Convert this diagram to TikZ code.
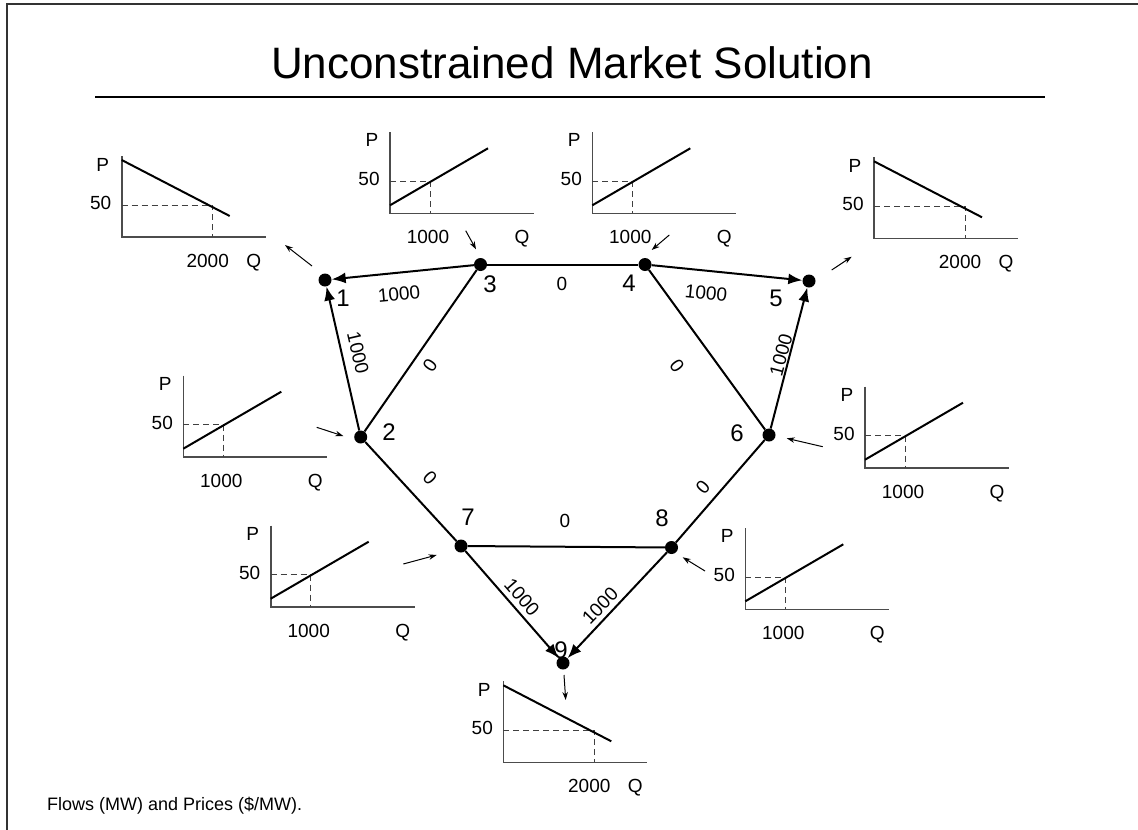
\documentclass[tikz,border=0pt]{standalone}
\usepackage{fontspec}
\setmainfont{Liberation Sans}
\usetikzlibrary{arrows.meta}
\tikzset{
  frame/.style={line width=1.4pt, black!80},
  axisline/.style={line width=1.6pt, black!70},
  guide/.style={line width=1pt, black!75, dash pattern=on 6pt off 4pt},
  curveline/.style={line width=2pt, black},
  lbl/.style={inner sep=0pt, text depth=0pt, font=\fontsize{19}{22}\selectfont},
  elbl/.style={inner sep=0pt, font=\fontsize{19}{22}\selectfont},
  nlbl/.style={inner sep=0pt, font=\fontsize{24}{28}\selectfont},
  bus/.style={circle, fill=black, inner sep=0pt, minimum size=13pt},
  line/.style={line width=2pt, black},
  flow/.style={line width=2pt, black, -{Latex[length=14pt,width=11pt]}},
  inj/.style={line width=1pt, black, -{Stealth[length=8pt,width=5.5pt]}},
}
\newcommand\mysupplychart[2]{%
\begin{scope}[shift={(#2)}]
  \draw[axisline] (0,-81) -- (0,0) -- (144,0);
  \draw[guide] (0,-32) -- (40,-32) -- (40,0);
  \draw[curveline] (0,-8) -- (98,-65);
  \node[lbl] (#1P) at (-18,-73) {P};
  \node[lbl] (#1p) at (-21,-34) {50};
  \node[lbl] (#1q) at (38,24) {1000};
  \node[lbl] (#1Q) at (132,24) {Q};
\end{scope}}
\newcommand\mydemandchart[2]{%
\begin{scope}[shift={(#2)}]
  \draw[axisline] (0,-81) -- (0,0) -- (144,0);
  \draw[guide] (0,-32) -- (91,-32) -- (91,0);
  \draw[curveline] (0,-77) -- (108,-21);
  \node[lbl] (#1P) at (-19,-72) {P};
  \node[lbl] (#1p) at (-21,-34) {50};
  \node[lbl] (#1q) at (86,24) {2000};
  \node[lbl] (#1Q) at (132,24) {Q};
\end{scope}}
\begin{document}
\begin{tikzpicture}[x=1pt,y=-1pt]
\useasboundingbox (0,0) rectangle (1138,830);
% frame
\draw[frame] (1138,4) -- (7,4) -- (7,830);
% title
\node[inner sep=0pt, anchor=base, font=\fontsize{44}{50}\selectfont] (title) at (572,78) {Unconstrained Market Solution};
\draw[line width=1.2pt] (95,97) -- (1045,97);

% buses
\node[bus] (n1) at (325,280) {};
\node[bus] (n2) at (360.7,437) {};
\node[bus] (n3) at (480.5,264.5) {};
\node[bus] (n4) at (645,264.5) {};
\node[bus] (n5) at (809,281) {};
\node[bus] (n6) at (769,435) {};
\node[bus] (n7) at (461,546) {};
\node[bus] (n8) at (671.5,547.5) {};
\node[bus] (n9) at (563,663) {};

% bus labels
\node[nlbl] (l1) at (343,298) {1};
\node[nlbl] (l2) at (389,432) {2};
\node[nlbl] (l3) at (490,284) {3};
\node[nlbl] (l4) at (629,283) {4};
\node[nlbl] (l5) at (776,298) {5};
\node[nlbl] (l6) at (737,433) {6};
\node[nlbl] (l7) at (468,517) {7};
\node[nlbl] (l8) at (662,518) {8};
\node[nlbl] (l9) at (561,650) {9};

% lines
\draw[flow] (n3) -- (n1);
\draw[flow] (n2) -- (n1);
\draw[line] (n2) -- (n3);
\draw[line] (n3) -- (n4);
\draw[flow] (n4) -- (n5);
\draw[flow] (n6) -- (n5);
\draw[line] (n4) -- (n6);
\draw[line] (n2) -- (n7);
\draw[line] (n7) -- (n8);
\draw[line] (n8) -- (n6);
\draw[flow] (n7) -- (n9);
\draw[flow] (n8) -- (n9);

% flow labels
\node[elbl, rotate=5.5] (e13) at (399,294) {1000};
\node[elbl, rotate=-77] (e12) at (358,353) {1000};
\node[elbl, rotate=55] (e23) at (430,365) {0};
\node[elbl] (e34) at (562,284) {0};
\node[elbl, rotate=-6] (e45) at (706,293) {1000};
\node[elbl, rotate=75] (e56) at (781,355) {1000};
\node[elbl, rotate=-54] (e46) at (677,366) {0};
\node[elbl, rotate=49] (e68) at (703,487) {0};
\node[elbl, rotate=-47] (e27) at (430,478) {0};
\node[elbl] (e78) at (565,521) {0};
\node[elbl, rotate=-49] (e79) at (522,597) {1000};
\node[elbl, rotate=46] (e89) at (600,606) {1000};

% charts
\mydemandchart{c1}{121.7,237}
\mysupplychart{c3}{390,213.3}
\mysupplychart{c4}{592.3,213.3}
\mydemandchart{c5}{874,238.3}
\mysupplychart{c2}{183.3,456.7}
\mysupplychart{c6}{865,467.7}
\mysupplychart{c7}{270.7,606.7}
\mysupplychart{c8}{745.3,609.3}
\mydemandchart{c9}{503.3,762.3}

% injection / withdrawal arrows
\coordinate (a1s) at (312,266);   \coordinate (a1e) at (285,245);
\coordinate (a3s) at (465.7,230.7); \coordinate (a3e) at (476,249.3);
\coordinate (a4s) at (669.3,235); \coordinate (a4e) at (651.7,250);
\coordinate (a5s) at (831.7,270); \coordinate (a5e) at (851.7,256.7);
\coordinate (a2s) at (316.7,427.3); \coordinate (a2e) at (343.3,436);
\coordinate (a6s) at (822.7,446.7); \coordinate (a6e) at (786.7,438.3);
\coordinate (a7s) at (403.3,564); \coordinate (a7e) at (436.7,555);
\coordinate (a8s) at (705,571); \coordinate (a8e) at (682.7,557.3);
\coordinate (a9s) at (564,675); \coordinate (a9e) at (565.7,700);
\draw[inj] (a1s) -- (a1e);
\draw[inj] (a3s) -- (a3e);
\draw[inj] (a4s) -- (a4e);
\draw[inj] (a5s) -- (a5e);
\draw[inj] (a2s) -- (a2e);
\draw[inj] (a6s) -- (a6e);
\draw[inj] (a7s) -- (a7e);
\draw[inj] (a8s) -- (a8e);
\draw[inj] (a9s) -- (a9e);

% footer
\node[inner sep=0pt, anchor=west, font=\fontsize{18}{22}\selectfont] (foot) at (47,806) {Flows (MW) and Prices (\$/MW).};
\end{tikzpicture}
\end{document}
